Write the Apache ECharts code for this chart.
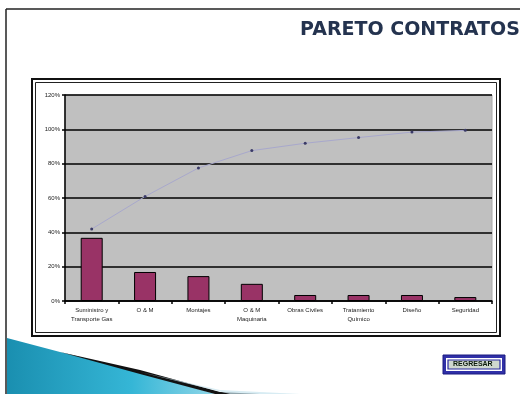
<!DOCTYPE html>
<html><head><meta charset="utf-8">
<script src="https://cdn.jsdelivr.net/npm/echarts@6/dist/echarts.min.js"></script>
<style>html,body{margin:0;padding:0;background:#fff}#c{width:520px;height:394px}</style>
</head><body><div id="c"></div>
<script>
var categories = ["Suministro y\nTransporte Gas", "O & M", "Montajes", "O & M\nMaquinaria", "Obras Civiles", "Tratamiento\nQuímico", "Diseño", "Seguridad"];
var barValues = [0.368, 0.169, 0.145, 0.100, 0.035, 0.035, 0.035, 0.023];
var cumulativeValues = [0.419, 0.609, 0.775, 0.876, 0.919, 0.952, 0.984, 0.994];
var yTicks = [0, 0.2, 0.4, 0.6, 0.8, 1.0, 1.2];

var chart = echarts.init(document.getElementById('c'), null, {renderer: 'canvas'});
chart.setOption({
  animation: false,
  backgroundColor: '#ffffff',
  grid: {left: 65, top: 95, right: 28, bottom: 93, show: true, backgroundColor: '#c0c0c0', borderColor: '#a8a8a8', borderWidth: 1},
  xAxis: {
    type: 'category', data: categories,
    axisLine: {lineStyle: {color: '#000', width: 1.5}},
    axisTick: {show: true, length: 3, lineStyle: {color: '#000', width: 1.5}},
    axisLabel: {fontSize: 6, color: '#222', fontFamily: 'Arial, Liberation Sans', lineHeight: 9, interval: 0, margin: 5}
  },
  yAxis: {
    type: 'value', min: yTicks[0], max: yTicks[yTicks.length - 1], interval: 0.2,
    axisLine: {show: true, lineStyle: {color: '#000', width: 1.5}},
    axisTick: {show: true, length: 3, lineStyle: {color: '#000', width: 1.5}},
    axisLabel: {fontSize: 6, color: '#222', fontFamily: 'Arial, Liberation Sans', margin: 5,
      formatter: function (v) { return Math.round(v * 100) + '%'; }},
    splitLine: {show: true, lineStyle: {color: '#000', width: 1.5}}
  },
  series: [
    {type: 'bar', data: barValues, barWidth: 22,
     itemStyle: {color: '#993366', borderColor: '#000', borderWidth: 1}},
    {type: 'line', data: cumulativeValues, symbol: 'circle', symbolSize: 3,
     lineStyle: {color: '#a8a8cc', width: 1},
     itemStyle: {color: '#3a3a66'}}
  ],
  graphic: [
    {type: 'line', shape: {x1: 6, y1: 9, x2: 520, y2: 9}, style: {stroke: '#222', lineWidth: 1.5}},
    {type: 'line', shape: {x1: 6, y1: 9, x2: 6, y2: 394}, style: {stroke: '#222', lineWidth: 1.5}},
    {type: 'text', left: 300, top: 21, style: {text: 'PARETO CONTRATOS', font: 'bold 19px "DejaVu Sans", Verdana, sans-serif', fill: '#24334f'}},
    {type: 'rect', shape: {x: 32, y: 79, width: 468, height: 257}, style: {fill: 'none', stroke: '#111', lineWidth: 2}, z: 10},
    {type: 'rect', shape: {x: 35.5, y: 82.5, width: 461, height: 250}, style: {fill: 'none', stroke: '#222', lineWidth: 1}, z: 10},
    {type: 'polygon', shape: {points: [[7, 338], [60, 352], [140, 372], [215, 394], [7, 394]]},
     style: {fill: new echarts.graphic.LinearGradient(0, 0, 1, 0, [{offset: 0, color: '#1a8fb0'}, {offset: 0.6, color: '#35b6d6'}, {offset: 1, color: '#8fd6e8'}])}},
    {type: 'polygon', shape: {points: [[60, 352], [140, 370], [220, 392], [260, 394], [215, 394], [140, 374]]},
     style: {fill: '#111'}},
    {type: 'polygon', shape: {points: [[140, 372], [220, 390], [300, 394], [230, 394]]},
     style: {fill: '#c8e4ee', opacity: 0.7}},
    {type: 'rect', shape: {x: 443, y: 355, width: 62, height: 19}, style: {fill: '#3030a8', stroke: '#1a1a80', lineWidth: 1}},
    {type: 'rect', shape: {x: 446, y: 358, width: 56, height: 13}, style: {fill: '#ffffff'}},
    {type: 'rect', shape: {x: 448, y: 360, width: 52, height: 9}, style: {fill: '#cfd8cf', stroke: '#2a2aa0', lineWidth: 1.2}},
    {type: 'text', left: 453, top: 361, style: {text: 'REGRESAR', font: 'bold 7px Arial, "Liberation Sans", sans-serif', fill: '#0a1a0a'}}
  ]
});
</script></body></html>
